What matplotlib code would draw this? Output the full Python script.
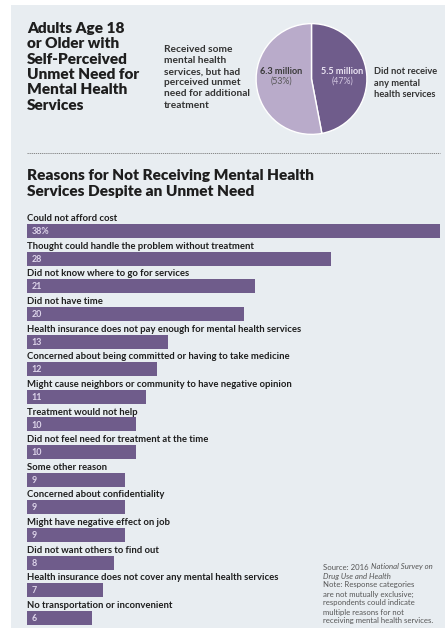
import matplotlib
matplotlib.use("Agg")
import matplotlib.pyplot as plt
from matplotlib.patches import Rectangle
from matplotlib.lines import Line2D

plt.rcParams['font.family'] = ['Lato', 'DejaVu Sans']

# ---- data ----
pie_labels = ["Did not receive any mental health services",
              "Received some mental health services, but had perceived unmet need for additional treatment"]
pie_values = [47, 53]
pie_millions = ["5.5 million", "6.3 million"]

title_lines = ["Adults Age 18", "or Older with", "Self-Perceived", "Unmet Need for",
               "Mental Health", "Services"]
left_desc = ["Received some", "mental health", "services, but had", "perceived unmet",
             "need for additional", "treatment"]
right_desc = ["Did not receive", "any mental", "health services"]
section_title = ["Reasons for Not Receiving Mental Health", "Services Despite an Unmet Need"]

reasons = [
    "Could not afford cost",
    "Thought could handle the problem without treatment",
    "Did not know where to go for services",
    "Did not have time",
    "Health insurance does not pay enough for mental health services",
    "Concerned about being committed or having to take medicine",
    "Might cause neighbors or community to have negative opinion",
    "Treatment would not help",
    "Did not feel need for treatment at the time",
    "Some other reason",
    "Concerned about confidentiality",
    "Might have negative effect on job",
    "Did not want others to find out",
    "Health insurance does not cover any mental health services",
    "No transportation or inconvenient",
]
percents = [38, 28, 21, 20, 13, 12, 11, 10, 10, 9, 9, 9, 8, 7, 6]

note_lines = ["Note: Response categories", "are not mutually exclusive;",
              "respondents could indicate", "multiple reasons for not",
              "receiving mental health services."]

# ---- style ----
W, H = 445, 628
BG = "#e8edf1"
DARK = "#6f5c8b"
LIGHT = "#b9abca"
TXT = "#1e1e1e"

fig = plt.figure(figsize=(W / 100, H / 100), dpi=100)
fig.patch.set_facecolor("white")

def fx(x):
    return x / W

def fy(y):
    return 1 - y / H

def text_lines(x, y0, step, lines, **kw):
    for k, s in enumerate(lines):
        fig.text(fx(x), fy(y0 + k * step), s, ha="left", va="center", **kw)

fig.patches.append(Rectangle((fx(11), 0), 1 - fx(11), fy(5), transform=fig.transFigure,
                             facecolor=BG, edgecolor="none", zorder=-10))

# Title
text_lines(27, 28.5, 15.3, title_lines, fontsize=11.1, fontweight="heavy", color=TXT)

# Left pie description
text_lines(164, 49.5, 11.1, left_desc, fontsize=7.3, fontweight="bold", color="#333333")

# Right pie description
text_lines(374, 72, 11.3, right_desc, fontsize=6.7, fontweight="bold", color="#333333")

# Pie
cx, cy, r = 311.5, 79, 56.5
pax = fig.add_axes([fx(cx - r), fy(cy + r), 2 * r / W, 2 * r / H])
pax.pie(pie_values, colors=[DARK, LIGHT], startangle=90, counterclock=False,
        wedgeprops=dict(edgecolor="white", linewidth=1.0))
pax.set_xlim(-1.02, 1.02)
pax.set_ylim(-1.02, 1.02)
pax.set_aspect("equal")
pax.axis("off")

fig.text(fx(342), fy(72), pie_millions[0], ha="center", va="center", fontsize=6.6,
         fontweight="bold", color="#ece6f4")
fig.text(fx(342), fy(81.5), f"({pie_values[0]}%)", ha="center", va="center", fontsize=6.3,
         color="#d4c9e2")
fig.text(fx(281), fy(72), pie_millions[1], ha="center", va="center", fontsize=6.6,
         fontweight="bold", color="#3a3a3a")
fig.text(fx(281), fy(81.5), f"({pie_values[1]}%)", ha="center", va="center", fontsize=6.3,
         color="#555555")

# Dashed separator
fig.add_artist(Line2D([fx(27), fx(440)], [fy(153), fy(153)], transform=fig.transFigure,
                      color="#777777", lw=0.6, linestyle=(0, (1.5, 1))))

# Section title
text_lines(27, 176, 16, section_title, fontsize=11.1, fontweight="heavy", color=TXT)

# Bars
x0, x1 = 27, 439.5
top_px, pitch, bar_h = 224, 27.64, 14
c0 = top_px + bar_h / 2
ay_top, ay_bot = 200, 628
bax = fig.add_axes([fx(x0), fy(ay_bot), (x1 - x0) / W, (ay_bot - ay_top) / H])
bax.set_xlim(0, max(percents))
bax.set_ylim((ay_bot - c0) / pitch, (ay_top - c0) / pitch)
ypos = list(range(len(reasons)))
bax.barh(ypos, percents, height=bar_h / pitch, color=DARK, edgecolor="none")
for i, (lab, v) in enumerate(zip(reasons, percents)):
    bax.text(0.0, i - 0.45, lab, ha="left", va="center", fontsize=6.8, fontweight="bold",
             color=TXT)
    txt = f"{v}%" if i == 0 else f"{v}"
    bax.text(0.4, i + 0.02, txt, ha="left", va="center", fontsize=6.4, fontweight="bold",
             color="#ddd4ea")
bax.axis("off")
bax.patch.set_visible(False)

# Source note
src_fs = 5.6
src_col = "#555555"
t1 = fig.text(fx(323), fy(567), "Source: 2016 ", ha="left", va="center", fontsize=src_fs, color=src_col)
plt.annotate("National Survey on", xy=(1, 0), xycoords=t1, ha="left", va="bottom",
             fontsize=src_fs, color=src_col, style="italic", annotation_clip=False)
fig.text(fx(323), fy(576), "Drug Use and Health", ha="left", va="center", fontsize=src_fs,
         color=src_col, style="italic")
text_lines(323, 585, 9, note_lines, fontsize=src_fs, color=src_col)

fig.savefig("out.png", dpi=100, facecolor=fig.get_facecolor())
